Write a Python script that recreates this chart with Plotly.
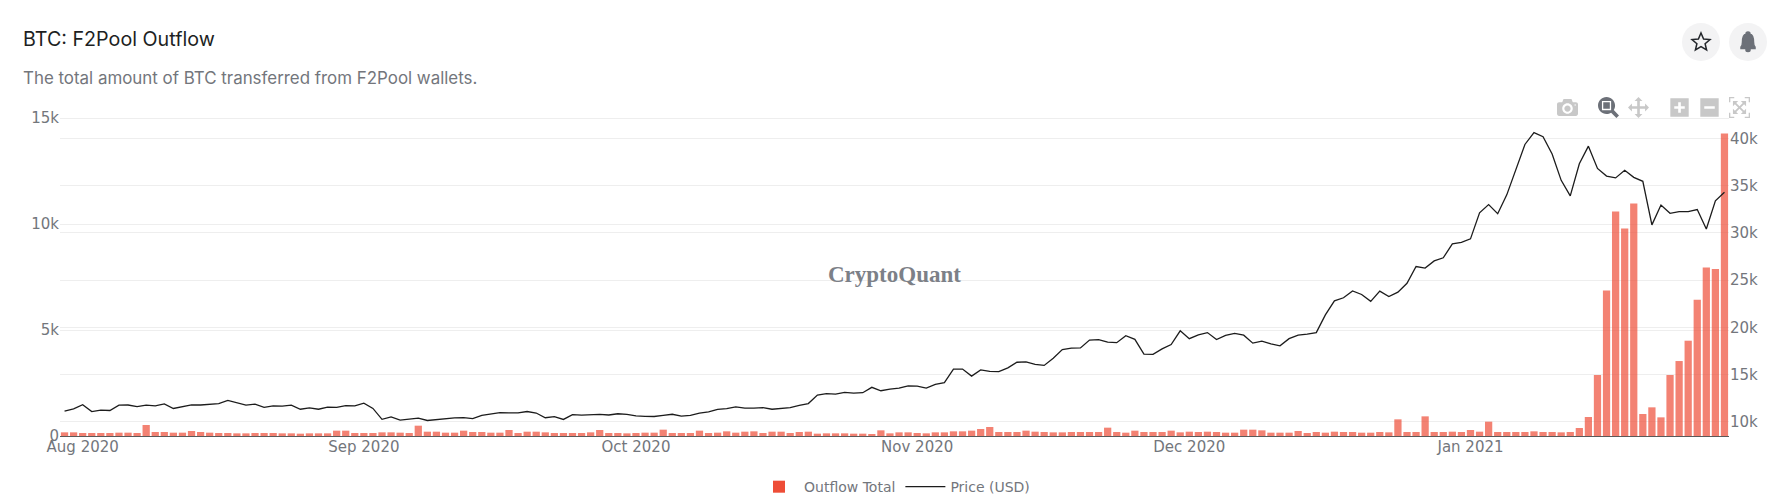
import pandas as pd
import plotly.graph_objects as go

dates = pd.date_range("2020-07-30", "2021-01-29", freq="D")

# Outflow, in BTC
outflow = [
    173, 173, 141, 141, 141, 141, 157, 157, 141, 520,
    189, 189, 157, 157, 236, 189, 157, 141, 141, 126,
    126, 141, 141, 141, 126, 126, 110, 126, 126, 126,
    252, 252, 141, 141, 141, 173, 173, 157, 141, 487,
    204, 204, 157, 157, 252, 189, 189, 157, 157, 283,
    141, 204, 204, 173, 141, 141, 141, 141, 173, 283,
    141, 141, 126, 141, 157, 157, 299, 141, 141, 141,
    252, 141, 157, 220, 157, 204, 220, 141, 204, 204,
    141, 189, 204, 110, 126, 126, 126, 110, 110, 94,
    267, 126, 173, 173, 141, 126, 173, 173, 220, 220,
    252, 330, 424, 189, 189, 189, 252, 204, 189, 173,
    173, 189, 189, 189, 189, 393, 189, 157, 252, 189,
    189, 189, 252, 173, 204, 189, 204, 189, 157, 157,
    299, 299, 267, 157, 157, 157, 236, 141, 189, 157,
    204, 189, 189, 157, 157, 189, 173, 786, 189, 189,
    927, 189, 189, 204, 189, 283, 204, 676, 189, 189,
    189, 189, 220, 189, 189, 173, 189, 377, 896, 2877,
    6870, 10596, 9794, 10973, 1038, 1352, 880, 2877, 3537, 4496,
    6430, 7954, 7876, 14274,
]

# BTC close in USD
price = [
    11110, 11350, 11800, 11070, 11230, 11190, 11750, 11770, 11600, 11750,
    11680, 11880, 11400, 11580, 11780, 11770, 11860, 11910, 12250, 11990,
    11760, 11860, 11520, 11680, 11650, 11750, 11320, 11460, 11320, 11540,
    11510, 11710, 11680, 11970, 11410, 10250, 10510, 10170, 10280, 10370,
    10130, 10240, 10360, 10400, 10440, 10330, 10680, 10800, 10950, 10940,
    10930, 11080, 10920, 10420, 10530, 10240, 10740, 10690, 10730, 10770,
    10710, 10840, 10780, 10620, 10570, 10550, 10670, 10790, 10600, 10670,
    10920, 11050, 11300, 11380, 11560, 11430, 11430, 11500, 11320, 11360,
    11480, 11740, 11920, 12820, 12970, 12930, 13110, 13030, 13070, 13640,
    13280, 13460, 13560, 13800, 13760, 13550, 13950, 14130, 15580, 15580,
    14830, 15480, 15330, 15300, 15700, 16300, 16330, 16070, 15960, 16730,
    17650, 17800, 17820, 18650, 18700, 18420, 18370, 19110, 18730, 17150,
    17130, 17720, 18180, 19630, 18800, 19200, 19440, 18700, 19150, 19360,
    19170, 18320, 18540, 18250, 18040, 18800, 19170, 19270, 19440, 21310,
    22800, 23130, 23860, 23480, 22750, 23830, 23250, 23730, 24660, 26440,
    26280, 27030, 27360, 28840, 29000, 29370, 32130, 33000, 32030, 34030,
    36820, 39370, 40620, 40200, 38360, 35570, 33920, 37320, 39190, 36830,
    36020, 35830, 36630, 35890, 35470, 30850, 32950, 32080, 32260, 32250,
    32470, 30410, 33400, 34300,
]

LEFT_TICKS = [0, 5000, 10000, 15000]
LEFT_LABELS = ["0", "5k", "10k", "15k"]
RIGHT_TICKS = [10000, 15000, 20000, 25000, 30000, 35000, 40000]
RIGHT_LABELS = ["10k", "15k", "20k", "25k", "30k", "35k", "40k"]

TICK_FONT = dict(family="DejaVu Sans", size=15, color="#73767c")
GRID = "#eeeeee"

STAR = ("M0,9 L2.6,2.9 L9,2.4 L4.1,-1.8 L5.6,-8 L0,-4.6 L-5.6,-8 L-4.1,-1.8 "
        "L-9,2.4 L-2.6,2.9 Z")
BELL = ("M0,10 C1.5,10 2,9 2,8 C5,7 5.5,4 5.5,0 C5.5,-3 6,-4 7,-5 L7,-6.5 L-7,-6.5 "
        "L-7,-5 C-6,-4 -5.5,-3 -5.5,0 C-5.5,4 -5,7 -2,8 C-2,9 -1.5,10 0,10 Z "
        "M-2,-8 C-2,-10 2,-10 2,-8 Z")


def icon_shapes(cx, cy, path, fill, line):
    # round button with a glyph on it, sized in pixels
    common = dict(xref="paper", yref="paper", xsizemode="pixel", ysizemode="pixel",
                  xanchor=cx, yanchor=cy)
    return [
        dict(type="circle", x0=-19, x1=19, y0=-19, y1=19, fillcolor="#f3f3f4",
             line=dict(width=0), **common),
        dict(type="path", path=path, fillcolor=fill, line=dict(color=line, width=1.5), **common),
    ]


fig = go.Figure()

fig.add_trace(go.Bar(x=dates, y=outflow, name="Outflow Total",
                     marker=dict(color="#ee4d37", opacity=0.7, line=dict(width=0))))
fig.add_trace(go.Scatter(x=dates, y=price, mode="lines", name="Price (USD)", yaxis="y2",
                         line=dict(color="#1c1c1c", width=1.3)))

PLOT_H = 496 - 117 - 60
star_y = 1 + (117 - 42) / PLOT_H
shapes = icon_shapes(1 + (1701 - 1729) / 1669, star_y, STAR, "rgba(0,0,0,0)", "#23262b")
shapes += icon_shapes(1 + (1748 - 1729) / 1669, star_y, BELL, "#6c7078", "#6c7078")
# the 15k line is not drawn in the reference, only its label
shapes.append(dict(type="line", xref="paper", yref="y", x0=0, x1=1, y0=15000, y1=15000,
                   layer="between", line=dict(color="white", width=2)))

fig.update_layout(
    width=1778,
    height=496,
    margin=dict(l=60, r=49, t=117, b=60, autoexpand=False),
    paper_bgcolor="white",
    plot_bgcolor="white",
    bargap=0.2,
    dragmode="zoom",
    showlegend=True,
    legend=dict(orientation="h", x=0.5, xanchor="center", y=-0.11, yanchor="top", itemwidth=40,
                font=dict(family="DejaVu Sans", size=14, color="#73767c")),
    xaxis=dict(tickformat="%b %Y", dtick="M1", tick0="2020-08-01", showgrid=False,
               tickfont=TICK_FONT, showline=False, ticks="", zeroline=False),
    yaxis=dict(range=[0, 15050], tickvals=LEFT_TICKS, ticktext=LEFT_LABELS, gridcolor=GRID,
               tickfont=TICK_FONT, zeroline=True, zerolinecolor="#5a5a5a", zerolinewidth=1),
    yaxis2=dict(range=[8485, 42280], tickvals=RIGHT_TICKS, ticktext=RIGHT_LABELS, side="right",
                overlaying="y", gridcolor=GRID, tickfont=TICK_FONT, zeroline=False),
    modebar=dict(bgcolor="rgba(0,0,0,0)", color="#c8c8c8", activecolor="#6c7078"),
    shapes=shapes,
    annotations=[
        dict(text="BTC: F2Pool Outflow", xref="paper", yref="paper", x=-0.0235, y=1 + (117 - 39) / PLOT_H,
             xanchor="left", yanchor="middle", showarrow=False,
             font=dict(family="Inter", size=19.7, color="#1d1f23")),
        dict(text="The total amount of BTC transferred from F2Pool wallets.", xref="paper", yref="paper",
             x=-0.0235, y=1 + (117 - 78) / PLOT_H, xanchor="left", yanchor="middle", showarrow=False,
             font=dict(family="Inter", size=16.9, color="#73767c")),
        dict(text="<b>CryptoQuant</b>", xref="paper", yref="paper", x=0.5, y=0.505,
             xanchor="center", yanchor="middle", showarrow=False,
             font=dict(family="Liberation Serif", size=23, color="#7c8087")),
    ],
)

# the page has no margin of its own, the toolbar sits just above the plot with larger
# icons, and the legend swatch is a bit bigger than plotly's
post_script = """
document.body.style.margin = '0';
document.body.style.overflow = 'hidden';
var st = document.createElement('style');
st.innerHTML = '.modebar-container{top:92px !important; right:22px !important;}'
  + '.js-plotly-plot .plotly .modebar-btn{font-size:21px !important; height:27px !important; padding:3px 4.5px !important;}'
  + '.js-plotly-plot .plotly .modebar-group{padding-left:11px !important;}'
  + '.legend .legendbar path{stroke:#ee4d37 !important; stroke-width:3px !important;}';
document.head.appendChild(st);
"""

fig.write_html(
    "out.html",
    post_script=post_script,
    config=dict(
        displayModeBar=True,
        displaylogo=False,
        modeBarButtons=[["toImage"], ["zoom2d", "pan2d"], ["zoomIn2d", "zoomOut2d", "autoScale2d"]],
    ),
)
